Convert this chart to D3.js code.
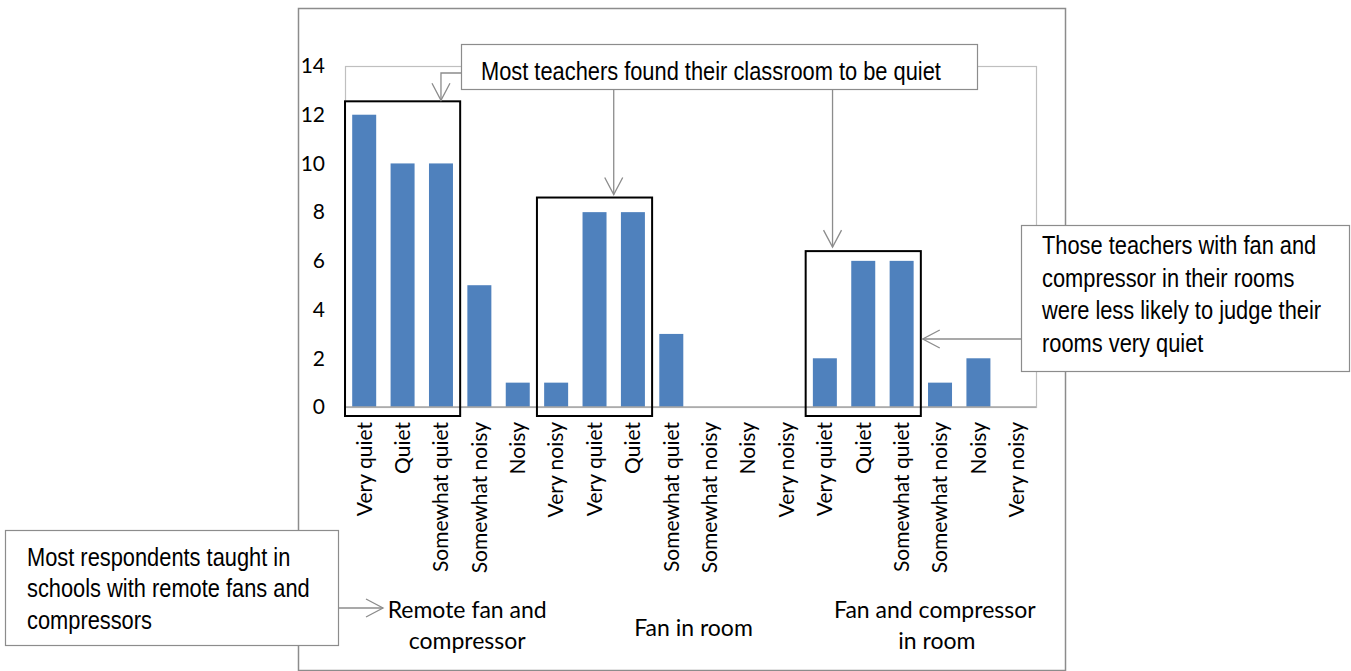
<!DOCTYPE html>
<html>
<head>
<meta charset="utf-8">
<script src="https://cdn.jsdelivr.net/npm/d3@7"></script>
<style>
  body { margin: 0; background: #fff; }
  .eje text { font-family: Lato, "Open Sans", sans-serif; fill: #000; }
  .nota { font-family: "Liberation Sans Narrow", "Arial Narrow", "Liberation Sans", sans-serif; fill: #000; }
</style>
</head>
<body>
<div id="grafBar"></div>
<script>
// Data
grupos = ['Remote fan and compressor', 'Fan in room', 'Fan and compressor in room']
gruposLineas = [['Remote fan and', 'compressor'], ['Fan in room'], ['Fan and compressor', 'in room']]
niveles = ['Very quiet', 'Quiet', 'Somewhat quiet', 'Somewhat noisy', 'Noisy', 'Very noisy']
valoresRemote = [12, 10, 10, 5, 1, 1]
valoresFan = [8, 8, 3, 0, 0, 0]
valoresFanComp = [2, 6, 6, 1, 2, 0]
ticksY = [0, 2, 4, 6, 8, 10, 12, 14]

// highlighted runs of bars (first and last index, top of box in data units)
cajas = [
  { desde: 0, hasta: 2, tope: 12.55 },
  { desde: 5, hasta: 7, tope: 8.6 },
  { desde: 12, hasta: 14, tope: 6.4 }
]

// flat table of bars
datos = []
;[valoresRemote, valoresFan, valoresFanComp].forEach((vals, g) => {
  vals.forEach((v, i) => {
    datos.push({ id: g * 6 + i, grupo: g, nivel: niveles[i], valor: v })
  })
})

anchoTotal = 1351
altoTotal = 671
margen = { superior: 66, izquierdo: 345, derecho: 315, inferior: 264 }
ancho = anchoTotal - margen.izquierdo - margen.derecho
alto = altoTotal - margen.superior - margen.inferior

svg = d3.select('#grafBar').append('svg')
  .attr('width', anchoTotal)
  .attr('height', altoTotal)

// outer chart frame
svg.append('rect')
  .attr('x', 298.5).attr('y', 8.5)
  .attr('width', 767).attr('height', 662)
  .attr('fill', 'none').attr('stroke', '#8c8c8c').attr('stroke-width', 1.5)

g = svg.append('g')
  .attr('transform', `translate(${ margen.izquierdo }, ${ margen.superior })`)

x = d3.scaleBand().domain(datos.map(d => d.id)).range([0, ancho])
  .paddingInner(0.375).paddingOuter(0.1875)
y = d3.scaleLinear().domain([0, 14]).range([alto, 0])
paso = x.step()

// plot area border
g.append('rect')
  .attr('x', 0.5).attr('y', 0.5)
  .attr('width', ancho).attr('height', alto)
  .attr('fill', 'none').attr('stroke', '#bfbfbf').attr('stroke-width', 1.2)

// y axis, labels only
yAxisGroup = g.append('g').attr('class', 'eje')
  .attr('transform', 'translate(-20, 0)')
  .call(d3.axisLeft(y).tickValues(ticksY).tickSize(0).tickPadding(0))
yAxisGroup.select('.domain').remove()
yAxisGroup.selectAll('text').attr('font-size', '21px').attr('text-anchor', 'end')

// bars
g.selectAll('.barra')
  .data(datos)
  .enter().append('rect')
  .attr('class', 'barra')
  .attr('x', d => x(d.id))
  .attr('y', d => y(d.valor))
  .attr('width', x.bandwidth())
  .attr('height', d => alto - y(d.valor))
  .attr('fill', '#4f81bd')

// baseline
g.append('line')
  .attr('x1', 0).attr('x2', ancho)
  .attr('y1', y(0)).attr('y2', y(0))
  .attr('stroke', '#a6a6a6').attr('stroke-width', 1.5)

// category labels, rotated
xAxisGroup = g.append('g').attr('class', 'eje')
  .attr('transform', `translate(0, ${ alto })`)
xAxisGroup.selectAll('text')
  .data(datos)
  .enter().append('text')
  .attr('transform', d => `translate(${ x(d.id) + x.bandwidth() / 2 }, 15) rotate(-90)`)
  .attr('dy', '0.35em')
  .attr('text-anchor', 'end')
  .attr('font-size', '21px')
  .text(d => d.nivel)

// group labels (Excel puts them a little right of the group middle)
corrimiento = [[7, 7], [3], [14, 16]]
gruposLineas.forEach((lineas, i) => {
  cx = paso * (i * 6 + 3)
  t = xAxisGroup.append('text')
    .attr('text-anchor', 'middle')
    .attr('font-size', '23px')
  y0 = lineas.length == 1 ? 229 : 211
  lineas.forEach((l, j) => {
    t.append('tspan').attr('x', cx + corrimiento[i][j]).attr('y', y0 + j * 31).text(l)
  })
})

// black boxes round the quiet bars
g.selectAll('.caja')
  .data(cajas)
  .enter().append('rect')
  .attr('class', 'caja')
  .attr('x', d => paso * d.desde)
  .attr('y', d => y(d.tope))
  .attr('width', d => paso * (d.hasta - d.desde + 1))
  .attr('height', d => alto + 9 - y(d.tope))
  .attr('fill', 'none').attr('stroke', '#000').attr('stroke-width', 2)

/******** ANNOTATIONS *************/
gris = '#8c8c8c'
function flecha(puntos, dir) {
  svg.append('path')
    .attr('d', d3.line()(puntos))
    .attr('fill', 'none').attr('stroke', gris).attr('stroke-width', 1.3)
  p = puntos[puntos.length - 1]
  // open arrow head
  if (dir == 'abajo') cab = [[p[0] - 9, p[1] - 17], p, [p[0] + 9, p[1] - 17]]
  if (dir == 'izq') cab = [[p[0] + 17, p[1] - 9], p, [p[0] + 17, p[1] + 9]]
  if (dir == 'der') cab = [[p[0] - 17, p[1] - 9], p, [p[0] - 17, p[1] + 9]]
  svg.append('path')
    .attr('d', d3.line()(cab))
    .attr('fill', 'none').attr('stroke', gris).attr('stroke-width', 1.3)
}
// no narrow font installed, so squeeze Liberation Sans like Arial Narrow
function nota(x0, y0, w, h, lineas, tx, ty, salto) {
  svg.append('rect')
    .attr('x', x0 + 0.5).attr('y', y0 + 0.5).attr('width', w).attr('height', h)
    .attr('fill', '#fff').attr('stroke', gris).attr('stroke-width', 1.2)
  t = svg.append('text').attr('class', 'nota').attr('font-size', '26px')
    .attr('transform', `translate(${ tx }, ${ ty }) scale(0.84, 1)`)
  lineas.forEach((l, j) => {
    t.append('tspan').attr('x', 0).attr('y', j * salto).text(l)
  })
}

X = v => margen.izquierdo + v
Y = v => margen.superior + y(v)

// top note and its three arrows
flecha([[461, 73], [X(paso * 2.5), 73], [X(paso * 2.5), Y(cajas[0].tope) - 1]], 'abajo')
flecha([[X(paso * 7), 89], [X(paso * 7), Y(cajas[1].tope) - 3]], 'abajo')
flecha([[X(paso * 12.7), 89], [X(paso * 12.7), Y(cajas[2].tope) - 4]], 'abajo')
nota(461, 44, 516, 45, ['Most teachers found their classroom to be quiet'], 481, 80, 0)

// right note
flecha([[1021, 339], [X(paso * 15.05), 339]], 'izq')
nota(1021, 225, 328, 146, ['Those teachers with fan and', 'compressor in their rooms', 'were less likely to judge their', 'rooms very quiet'], 1042, 254, 32.7)

// left note
flecha([[338, 608], [383, 608]], 'der')
nota(5, 530, 333, 115, ['Most respondents taught in', 'schools with remote fans and', 'compressors'], 27, 566, 31.5)
</script>
</body>
</html>
